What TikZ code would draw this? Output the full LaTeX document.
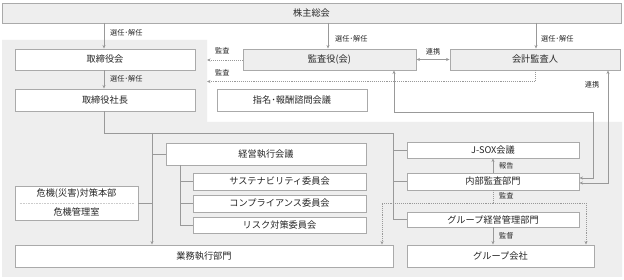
\documentclass[tikz,border=0pt]{standalone}
\usepackage{fontspec}
\newfontfamily\cjk{Noto Sans CJK JP}
\usetikzlibrary{arrows.meta}
\definecolor{bgray}{HTML}{EEEEEE}
\definecolor{boxline}{HTML}{AAAAAA}
\definecolor{conn}{HTML}{999999}
\definecolor{txt}{HTML}{262626}
\tikzset{
  box/.style={draw=boxline, line width=0.9pt, fill=white, inner sep=0pt, font=\cjk\fontsize{9.2}{11}\selectfont, text=txt},
  gbox/.style={box, fill=bgray},
  lbl/.style={font=\cjk\fontsize{7.2}{9}\selectfont, text=txt, inner sep=0pt},
  ln/.style={draw=conn, line width=0.9pt},
  arr/.style={ln, -{Stealth[length=3.5pt,width=3pt]}},
  darr/.style={ln, {Stealth[length=3.5pt,width=3pt]}-{Stealth[length=3.5pt,width=3pt]}},
  dotarr/.style={draw=conn, line width=0.9pt, densely dotted, -{Stealth[length=3.5pt,width=3pt]}},
  dotln/.style={draw=conn, line width=0.9pt, densely dotted},
}
\begin{document}
\begin{tikzpicture}[x=1pt,y=-1pt]
\useasboundingbox (0,0) rectangle (624,280);
\fill[white] (0,0) rectangle (624,280);
% gray background region
\fill[bgray] (2,40) -- (207,40) -- (207,122) -- (622,122) -- (622,277) -- (2,277) -- cycle;

% boxes
\node[gbox, minimum width=619pt, minimum height=20pt] (kabu) at (311.5,13) {株主総会};
\node[box, minimum width=180pt, minimum height=21pt] (tori) at (105,59.5) {取締役会};
\node[gbox, minimum width=173pt, minimum height=21pt] (kansa) at (329.5,59.5) {監査役(会)};
\node[gbox, minimum width=170pt, minimum height=21pt] (kaikei) at (535,59.5) {会計監査人};
\node[box, minimum width=180pt, minimum height=22pt] (shacho) at (105,100) {取締役社長};
\node[box, minimum width=150pt, minimum height=22pt] (shimei) at (292,100) {指名･報酬諮問会議};
\node[box, minimum width=200pt, minimum height=22pt] (keiei) at (266,154) {経営執行会議};
\node[box, minimum width=173pt, minimum height=17pt] (sus) at (279.5,181.5) {サステナビリティ委員会};
\node[box, minimum width=173pt, minimum height=17pt] (comp) at (279.5,203.5) {コンプライアンス委員会};
\node[box, minimum width=173pt, minimum height=16pt] (risk) at (279.5,225) {リスク対策委員会};
\node[box, minimum width=123pt, minimum height=34pt] (kiki) at (76.5,203) {};
\node[lbl, font=\cjk\fontsize{9.2}{11}\selectfont] (kikiA) at (76.5,194) {危機(災害)対策本部};
\node[lbl, font=\cjk\fontsize{9.2}{11}\selectfont] (kikiB) at (76.5,212.5) {危機管理室};
\draw[draw=boxline!60, line width=0.6pt, densely dotted] ([xshift=5pt]kiki.west) coordinate (kikiL) -- ([xshift=-5pt]kiki.east) coordinate (kikiR);
\node[box, minimum width=378pt, minimum height=22pt] (gyomu) at (204,256) {業務執行部門};
\node[box, minimum width=172pt, minimum height=16pt] (jsox) at (493,150) {J-SOX会議};
\node[box, minimum width=172pt, minimum height=17pt] (naibu) at (493,181.5) {内部監査部門};
\node[box, minimum width=172pt, minimum height=15pt] (grp) at (493,219.5) {グループ経営管理部門};
\node[box, minimum width=187pt, minimum height=22pt] (grpk) at (500.5,256) {グループ会社};

% shareholders arrows
\draw[arr] (104,23) coordinate (k1) -- (tori.north -| k1);
\node[lbl, anchor=west] (l1) at (110,32.5) {選任･解任};
\draw[arr] (328,23) coordinate (k2) -- (kansa.north -| k2);
\node[lbl, anchor=west] (l2) at (335,39) {選任･解任};
\draw[arr] (536,23) coordinate (k3) -- (kaikei.north -| k3);
\node[lbl, anchor=west] (l3) at (541,39) {選任･解任};
% board -> president
\draw[arr] (tori.south -| k1) -- (shacho.north -| k1);
\node[lbl, anchor=west] (l4) at (110,79) {選任･解任};
% audits to board
\coordinate (a1) at (207,60);
\draw[dotarr] (kansa.west |- a1) -- (a1);
\node[lbl, anchor=west] (l5) at (215,51) {監査};
\coordinate (a2) at (207,81.5);
\coordinate (a3) at (535,81.5);
\draw[dotarr] (kaikei.south -| a3) -- (a3) -- (a2);
\node[lbl, anchor=west] (l6) at (215,73) {監査};
% cooperation
\draw[darr] (kansa.east) -- (kaikei.west);
\node[lbl] (l7) at (433,52) {連携};
% right side lines to internal audit
\coordinate (r1) at (394,112);
\coordinate (r2) at (593,112);
\coordinate (r3) at (593,178);
\draw[darr] (kansa.south -| r1) -- (r1) -- (r2) -- (r3) -- (naibu.east |- r3);
\coordinate (r4) at (608,183);
\draw[darr] (kaikei.south -| r4) -- (r4) -- (naibu.east |- r4);
\node[lbl] (l8) at (592,84.5) {連携};
% president to organisation
\coordinate (p1) at (104,133);
\coordinate (p2) at (393,133);
\coordinate (p3) at (393,219.5);
\draw[ln] (shacho.south -| p1) -- (p1) -- (p2) -- (p3) -- (grp.west);
\draw[ln] (p2 |- jsox.west) -- (jsox.west);
\draw[ln] (p2 |- naibu.west) -- (naibu.west);
\coordinate (v1) at (152,133);
\draw[arr] (v1) -- (gyomu.north -| v1);
\draw[ln] (v1 |- keiei.west) -- (keiei.west);
\draw[ln] (kiki.east) -- (kiki.east -| v1);
% sub committees
\coordinate (s1) at (180,165);
\draw[ln] (s1) -- (s1 |- risk.west) -- (risk.west);
\draw[ln] (s1 |- sus.west) -- (sus.west);
\draw[ln] (s1 |- comp.west) -- (comp.west);
% internal audit
\draw[arr] (naibu.north) -- (jsox.south);
\node[lbl, anchor=west] (l9) at (499,166) {報告};
\coordinate (d0) at (493,203);
\coordinate (d1) at (382,203);
\coordinate (d2) at (586,203);
\draw[dotln] (naibu.south) -- (d0);
\draw[dotarr] (d0) -- (d1) -- (gyomu.north -| d1);
\draw[dotarr] (d0) -- (d2) -- (grpk.north -| d2);
\node[lbl, anchor=west] (l10) at (499,195.5) {監査};
\draw[arr] (grp.south) -- (grpk.north -| grp.south);
\node[lbl, anchor=west] (l11) at (499,236) {監督};
\end{tikzpicture}
\end{document}
